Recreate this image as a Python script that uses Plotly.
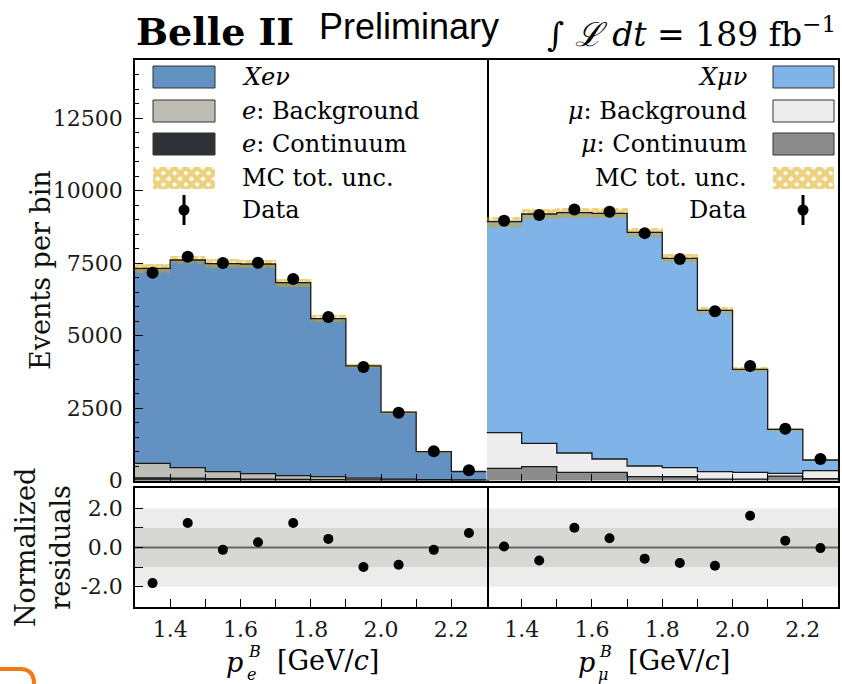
import plotly.graph_objects as go

# ---------------------------------------------------------------- data
edges = [1.3, 1.4, 1.5, 1.6, 1.7, 1.8, 1.9, 2.0, 2.1, 2.2, 2.3]
centers = [1.35, 1.45, 1.55, 1.65, 1.75, 1.85, 1.95, 2.05, 2.15, 2.25]
count_ticks = [0, 2500, 5000, 7500, 10000, 12500]
count_tick_text = ["0", "2500", "5000", "7500", "10000", "12500"]
p_ticks = [1.4, 1.6, 1.8, 2.0, 2.2]
p_tick_text = ["1.4", "1.6", "1.8", "2.0", "2.2"]
res_ticks = [-2, 0, 2]
res_tick_text = ["-2.0", "0.0", "2.0"]

# electron channel
e_signal = [6724, 7162, 7177, 7231, 6654, 5449, 3870, 2305, 965, 290]
e_background = [503, 361, 243, 184, 126, 101, 60, 35, 20, 15]
e_continuum = [90, 80, 60, 50, 40, 30, 20, 15, 10, 5]
e_mc_unc = [150, 150, 150, 150, 140, 110, 80, 55, 35, 20]
e_data = [7160, 7715, 7500, 7510, 6950, 5640, 3910, 2335, 1010, 350]
e_resid = [-1.82, 1.25, -0.12, 0.27, 1.25, 0.44, -1.00, -0.88, -0.12, 0.74]

# muon channel
mu_signal = [7275, 7906, 8286, 8471, 8058, 7220, 5565, 3551, 1517, 369]
mu_background = [1228, 807, 665, 458, 369, 311, 253, 233, 98, 278]
mu_continuum = [421, 476, 283, 283, 131, 130, 50, 50, 150, 60]
mu_mc_unc = [170, 170, 170, 170, 160, 140, 110, 80, 45, 25]
mu_data = [8958, 9155, 9345, 9265, 8530, 7638, 5834, 3950, 1786, 741]
mu_resid = [0.05, -0.66, 1.01, 0.47, -0.57, -0.79, -0.93, 1.62, 0.35, -0.03]

# ---------------------------------------------------------------- geometry / style
FIG_W, FIG_H = 842, 684
M_L, M_R, M_T, M_B = 135, 4, 60, 77
PLOT_W = FIG_W - M_L - M_R
PLOT_H = FIG_H - M_T - M_B
Y_MAX = 14500
RES_LIM = 3.04

SERIF = "DejaVu Serif"
SANS = "Liberation Sans"
GOLD = "#d9a300"
INK = "#1a1a1a"

E_COLORS = dict(signal="#6391c2", background="#bdbdb6", continuum="#2e3236")
MU_COLORS = dict(signal="#80b3e8", background="#ededed", continuum="#8c8c8c")
HATCH = dict(shape="x", fgcolor=GOLD, size=7, solidity=0.85, fillmode="overlay")


def fx(px):
    return (px - M_L) / PLOT_W


def fy(py):
    return (FIG_H - M_B - py) / PLOT_H


UPPER_DOM = [fy(480.5), 1.0]
LOWER_DOM = [0.0, fy(488)]

fig = go.Figure()


def add_channel(xa, ya, xr, yr, signal, background, continuum, unc, data, resid, colors):
    bkg_top = [c + b for c, b in zip(continuum, background)]
    mc_top = [t + s for t, s in zip(bkg_top, signal)]

    layers = [
        (continuum, [0] * len(continuum), colors["continuum"]),
        (background, continuum, colors["background"]),
        (signal, bkg_top, colors["signal"]),
    ]
    for heights, base, color in layers:
        fig.add_trace(go.Bar(
            x=centers, y=heights, base=base, width=0.1,
            marker=dict(color=color, line=dict(width=0)),
            xaxis=xa, yaxis=ya, showlegend=False, hoverinfo="skip",
        ))

    for tops in (continuum, bkg_top, mc_top):
        fig.add_trace(go.Scatter(
            x=edges, y=list(tops) + [tops[-1]], mode="lines",
            line=dict(color=INK, width=1.3, shape="hv"),
            xaxis=xa, yaxis=ya, showlegend=False, hoverinfo="skip",
        ))

    # MC total uncertainty band
    fig.add_trace(go.Bar(
        x=centers, y=[2 * u for u in unc], base=[m - u for m, u in zip(mc_top, unc)],
        width=0.1,
        marker=dict(color="rgba(0,0,0,0)", line=dict(width=0), pattern=HATCH),
        xaxis=xa, yaxis=ya, showlegend=False, hoverinfo="skip",
    ))

    fig.add_trace(go.Scatter(
        x=centers, y=data, mode="markers",
        marker=dict(color="black", size=12),
        xaxis=xa, yaxis=ya, showlegend=False,
    ))

    fig.add_trace(go.Scatter(
        x=centers, y=resid, mode="markers",
        marker=dict(color="black", size=10),
        xaxis=xr, yaxis=yr, showlegend=False,
    ))


add_channel("x", "y", "x3", "y3", e_signal, e_background, e_continuum,
            e_mc_unc, e_data, e_resid, E_COLORS)
add_channel("x2", "y2", "x4", "y4", mu_signal, mu_background, mu_continuum,
            mu_mc_unc, mu_data, mu_resid, MU_COLORS)

# ---------------------------------------------------------------- legend boxes (pixel overlay axis)
ROWS = [77, 111, 144, 178, 210]
shapes = []
annotations = []


def legend_block(patch_x0, patch_x1, text_x, anchor, labels, colors, sym_x):
    for row, key in zip(ROWS[:3], ["signal", "background", "continuum"]):
        shapes.append(dict(
            type="rect", xref="paper", yref="paper",
            x0=fx(patch_x0), x1=fx(patch_x1), y0=fy(row + 11), y1=fy(row - 11),
            fillcolor=colors[key], line=dict(color="#333333", width=1), layer="above",
        ))
    # hatched patch for the uncertainty
    fig.add_trace(go.Scatter(
        x=[patch_x0, patch_x1, patch_x1, patch_x0, patch_x0],
        y=[ROWS[3] - 11, ROWS[3] - 11, ROWS[3] + 11, ROWS[3] + 11, ROWS[3] - 11],
        mode="lines", fill="toself", fillcolor="rgba(0,0,0,0)",
        fillpattern=dict(shape="x", fgcolor=GOLD, size=8, solidity=0.8, fillmode="overlay"),
        line=dict(width=0, color=GOLD), xaxis="x5", yaxis="y5",
        showlegend=False, hoverinfo="skip",
    ))
    # data symbol
    fig.add_trace(go.Scatter(
        x=[sym_x, sym_x], y=[ROWS[4] - 15, ROWS[4] + 15], mode="lines",
        line=dict(color="black", width=3), xaxis="x5", yaxis="y5",
        showlegend=False, hoverinfo="skip",
    ))
    fig.add_trace(go.Scatter(
        x=[sym_x], y=[ROWS[4]], mode="markers", marker=dict(color="black", size=11),
        xaxis="x5", yaxis="y5", showlegend=False, hoverinfo="skip",
    ))
    for row, label in zip(ROWS, labels):
        annotations.append(dict(
            x=fx(text_x), y=fy(row), xref="paper", yref="paper", text=label,
            xanchor=anchor, yanchor="middle", showarrow=False,
            font=dict(family=SERIF, size=24, color="black"),
        ))


legend_block(153, 215, 240, "left",
             ["<i>Xeν</i>", "<i>e</i>: Background", "<i>e</i>: Continuum",
              "MC tot. unc.", "Data"],
             E_COLORS, 184)
legend_block(773, 834, 749, "right",
             ["<i>Xμν</i>", "<i>μ</i>: Background", "<i>μ</i>: Continuum",
              "MC tot. unc.", "Data"],
             MU_COLORS, 803)

# residual reference bands
for xr, yr in (("x3", "y3"), ("x4", "y4")):
    shapes.append(dict(type="rect", xref=f"{xr} domain", yref=yr, x0=0, x1=1, y0=-2, y1=2,
                       fillcolor="#ececec", line=dict(width=0), layer="below"))
    shapes.append(dict(type="rect", xref=f"{xr} domain", yref=yr, x0=0, x1=1, y0=-1, y1=1,
                       fillcolor="#d7d7d3", line=dict(width=0), layer="below"))
    shapes.append(dict(type="line", xref=f"{xr} domain", yref=yr, x0=0, x1=1, y0=0, y1=0,
                       line=dict(color="#666666", width=2.2), layer="below"))

# orange corner mark at the lower left
shapes.append(dict(
    type="path", xref="paper", yref="paper",
    path=(f"M {fx(0)},{fy(669)} L {fx(20)},{fy(669)} "
          f"Q {fx(34)},{fy(669)} {fx(34)},{fy(684)}"),
    line=dict(color="#f07a1a", width=4),
))

# ---------------------------------------------------------------- titles
annotations += [
    dict(x=fx(134), y=fy(31), xref="paper", yref="paper", text="<b>Belle II</b>",
         xanchor="left", yanchor="middle", showarrow=False,
         font=dict(family=SERIF, size=38, color="black")),
    dict(x=fx(317), y=fy(26), xref="paper", yref="paper", text="Preliminary",
         xanchor="left", yanchor="middle", showarrow=False,
         font=dict(family=SANS, size=36, color="black")),
    dict(x=fx(838), y=fy(32), xref="paper", yref="paper",
         text="∫ <i>ℒ dt</i> = 189 fb<sup>−1</sup>",
         xanchor="right", yanchor="middle", showarrow=False,
         font=dict(family=SERIF, size=33, color="black")),
    dict(x=fx(40), y=fy(270), xref="paper", yref="paper", text="Events per bin",
         textangle=-90, xanchor="center", yanchor="middle", showarrow=False,
         font=dict(family=SERIF, size=27, color="#111111")),
    dict(x=fx(43), y=fy(548), xref="paper", yref="paper", text="Normalized<br>residuals",
         textangle=-90, xanchor="center", yanchor="middle", showarrow=False,
         font=dict(family=SERIF, size=27, color="#111111")),
]

for cx, sub in ((M_L + PLOT_W * 0.25, "e"), (M_L + PLOT_W * 0.75, "μ")):
    annotations += [
        dict(x=fx(cx - 76), y=fy(662), xref="paper", yref="paper", text="<i>p</i>",
             xanchor="center", yanchor="middle", showarrow=False,
             font=dict(family=SERIF, size=27, color="black")),
        dict(x=fx(cx - 65), y=fy(651), xref="paper", yref="paper", text="<i>B</i>",
             xanchor="left", yanchor="middle", showarrow=False,
             font=dict(family=SERIF, size=16, color="black")),
        dict(x=fx(cx - 66), y=fy(674), xref="paper", yref="paper", text=f"<i>{sub}</i>",
             xanchor="left", yanchor="middle", showarrow=False,
             font=dict(family=SERIF, size=16, color="black")),
        dict(x=fx(cx - 36), y=fy(660), xref="paper", yref="paper",
             text="[GeV/<i>c</i>]",
             xanchor="left", yanchor="middle", showarrow=False,
             font=dict(family=SERIF, size=27, color="black")),
    ]

# ---------------------------------------------------------------- axes
frame = dict(showline=True, linecolor="black", linewidth=1.6, mirror=True,
             showgrid=False, zeroline=False)
right_frame = dict(showline=True, linecolor="black", linewidth=1.6, mirror=False,
                   side="right", showgrid=False, zeroline=False)
tick_font = dict(family=SERIF, size=22, color="#1a1a1a")

upper_x = dict(range=[1.3, 2.3], showticklabels=False, ticks="inside", ticklen=7,
               tickwidth=1.3, tickcolor="black", tick0=1.3, dtick=0.1, **frame)
lower_x = dict(range=[1.3, 2.3], tickvals=p_ticks, ticktext=p_tick_text,
               ticks="inside", ticklen=8, tickwidth=1.3, tickcolor="black",
               minor=dict(ticks="inside", ticklen=8, tick0=1.3, dtick=0.1,
                          tickcolor="black", tickwidth=1.3),
               tickfont=tick_font, ticklabelstandoff=2, **frame)

fig.update_layout(
    width=FIG_W, height=FIG_H,
    margin=dict(l=M_L, r=M_R, t=M_T, b=M_B, pad=0),
    paper_bgcolor="white", plot_bgcolor="rgba(0,0,0,0)",
    barmode="overlay", bargap=0, showlegend=False,
    xaxis=dict(domain=[0, 0.5], anchor="y", **upper_x),
    xaxis2=dict(domain=[0.5, 1], anchor="y2", **upper_x),
    xaxis3=dict(domain=[0, 0.5], anchor="y3", **lower_x),
    xaxis4=dict(domain=[0.5, 1], anchor="y4", **lower_x),
    yaxis=dict(domain=UPPER_DOM, anchor="x", range=[0, Y_MAX],
               tickvals=count_ticks, ticktext=count_tick_text,
               ticks="inside", ticklen=8, tickwidth=1.3, tickcolor="black",
               minor=dict(ticks="inside", ticklen=4, tick0=0, dtick=500,
                          tickcolor="black", tickwidth=1),
               tickfont=tick_font, ticklabelstandoff=6, **frame),
    yaxis2=dict(domain=UPPER_DOM, anchor="x2", range=[0, Y_MAX],
                showticklabels=False, ticks="", **right_frame),
    yaxis3=dict(domain=LOWER_DOM, anchor="x3", range=[-RES_LIM, RES_LIM],
                tickvals=res_ticks, ticktext=res_tick_text,
                ticks="inside", ticklen=8, tickwidth=1.3, tickcolor="black",
                minor=dict(ticks="inside", ticklen=8, tick0=-3, dtick=1,
                           tickcolor="black", tickwidth=1.3),
                tickfont=tick_font, ticklabelstandoff=6, **frame),
    yaxis4=dict(domain=LOWER_DOM, anchor="x4", range=[-RES_LIM, RES_LIM],
                showticklabels=False, ticks="", **right_frame),
    xaxis5=dict(domain=[0, 1], anchor="y5", range=[M_L, FIG_W - M_R], visible=False),
    yaxis5=dict(domain=[0, 1], anchor="x5", range=[FIG_H - M_B, M_T], visible=False),
    shapes=shapes,
    annotations=annotations,
)

fig.write_html("out.html")
